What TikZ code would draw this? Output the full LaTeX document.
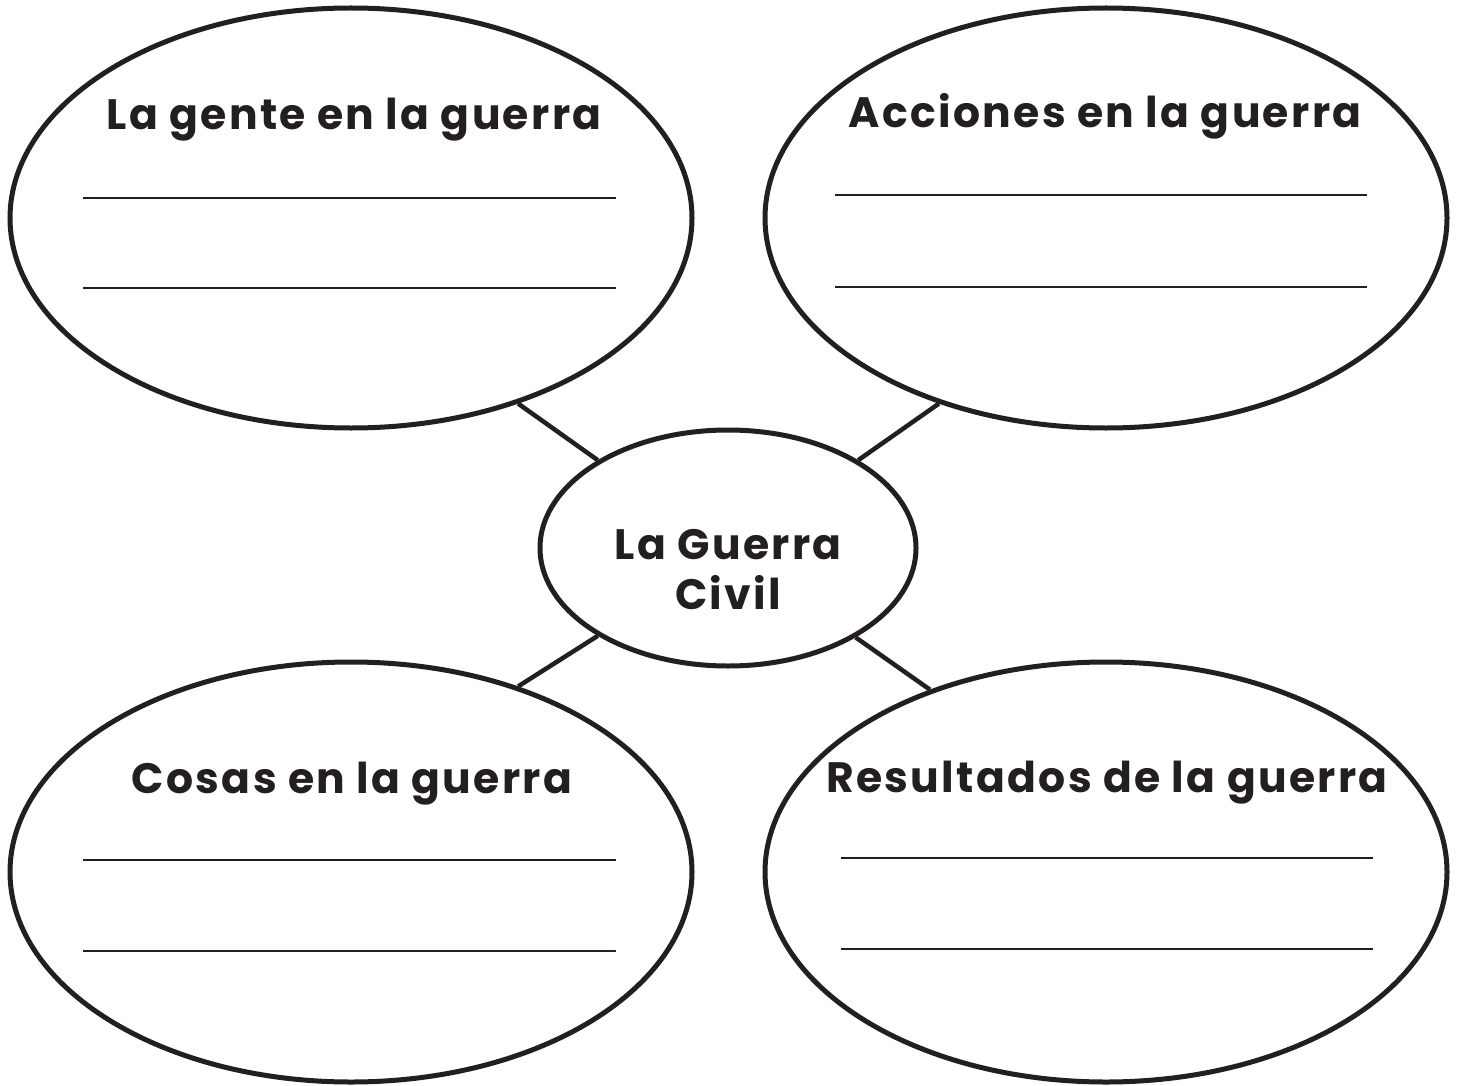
\documentclass[tikz,border=0pt]{standalone}
\usepackage{fontspec}
\setmainfont{Poppins}
\newfontfamily\headfont[LetterSpace=5.5]{Poppins}
\usetikzlibrary{shapes.geometric}
\definecolor{ink}{HTML}{231F20}
\tikzset{
  bigoval/.style={ellipse, draw=ink, line width=5pt, minimum width=682pt, minimum height=420pt, inner sep=0pt},
  midoval/.style={ellipse, draw=ink, line width=5pt, minimum width=376pt, minimum height=236pt, inner sep=0pt},
  link/.style={draw=ink, line width=4.5pt},
  blank/.style={draw=ink, line width=2pt},
  title/.style={font=\headfont\fontsize{42.5}{44}\selectfont\bfseries, text=ink, inner sep=0pt, anchor=base},
  midtext/.style={font=\headfont\fontsize{42.5}{50}\selectfont\bfseries, text=ink, inner sep=0pt, align=center}
}
\begin{document}
\begin{tikzpicture}[x=1pt,y=-1pt]
\useasboundingbox (0,0) rectangle (1458,1086);
\node[bigoval] (tl) at (351,218) {};
\node[bigoval] (tr) at (1106,218) {};
\node[bigoval] (bl) at (351,872) {};
\node[bigoval] (br) at (1106,872) {};
\node[midoval] (c) at (728,548) {};
\node[midtext] (ct) at (728,570) {La Guerra\\Civil};
\node[title] (ttl) at (354,130) {La gente en la guerra};
\node[title] (ttr) at (1105,128) {Acciones en la guerra};
\node[title] (tbl) at (352,793) {Cosas en la guerra};
\node[title] (tbr) at (1107,792) {Resultados de la guerra};
\draw[link] (tl.-48.4) -- (c.146.1);
\draw[link] (tr.-132.1) -- (c.34.6);
\draw[link] (bl.48.8) -- (c.-146.8);
\draw[link] (br.134) -- (c.-35.9);
\draw[blank] (83,198) -- (616,198);
\draw[blank] (83,288) -- (616,288);
\draw[blank] (835,195) -- (1367,195);
\draw[blank] (835,287) -- (1367,287);
\draw[blank] (83,860) -- (616,860);
\draw[blank] (83,951) -- (616,951);
\draw[blank] (841,858) -- (1373,858);
\draw[blank] (841,949) -- (1373,949);
\end{tikzpicture}
\end{document}
